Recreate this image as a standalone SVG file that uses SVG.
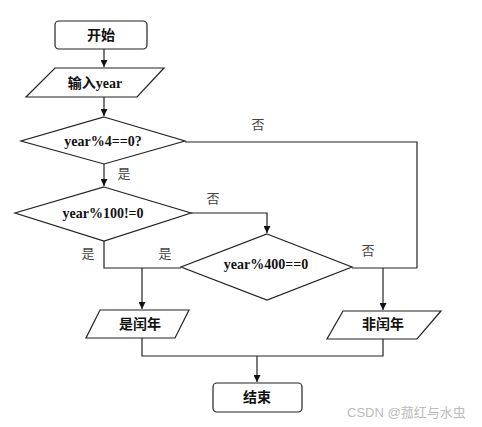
<svg xmlns="http://www.w3.org/2000/svg" width="482" height="427" viewBox="0 0 482 427">
<style>
.shape{fill:#fff;stroke:#222;stroke-width:1.2}
.t{font-family:"Liberation Serif","Noto Sans CJK SC",serif;font-size:14px;font-weight:bold;fill:#111;text-anchor:middle;dominant-baseline:central}
.lbl{font-family:"Noto Sans CJK SC","Liberation Serif",serif;font-size:13px;fill:#444;text-anchor:middle;dominant-baseline:central}
.wm{font-family:"Liberation Sans","Noto Sans CJK SC",sans-serif;font-size:13px;fill:#bbb}
.c{fill:none;stroke:#222;stroke-width:1.2}
</style>
<defs>
<marker id="ah" viewBox="0 0 10 10" refX="10" refY="5" markerWidth="7" markerHeight="7" orient="auto" markerUnits="userSpaceOnUse">
<path d="M0,0 L10,5 L0,10 z" fill="#111"/>
</marker>
</defs>
<rect width="482" height="427" fill="#fff"/>
<g id="connectors">
<path class="c" d="M104,49 V67" marker-end="url(#ah)"/>
<path class="c" d="M104,97 V116" marker-end="url(#ah)"/>
<path class="c" d="M104,164 V186" marker-end="url(#ah)"/>
<path class="c" d="M185,142 H417 V268"/>
<path class="c" d="M191,213 H267 V233" marker-end="url(#ah)"/>
<path class="c" d="M104,241 V268 H181"/>
<path class="c" d="M142,268 V309" marker-end="url(#ah)"/>
<path class="c" d="M352,268 H417"/>
<path class="c" d="M383,268 V310" marker-end="url(#ah)"/>
<path class="c" d="M142,338 V356 H383 V339"/>
<path class="c" d="M257,356 V382" marker-end="url(#ah)"/>
<text class="lbl" x="258" y="123">否</text>
<text class="lbl" x="124" y="172">是</text>
<text class="lbl" x="213" y="197">否</text>
<text class="lbl" x="88" y="252">是</text>
<text class="lbl" x="165" y="252">是</text>
<text class="lbl" x="368" y="249">否</text>
</g>
<g id="start">
<rect class="shape" x="55" y="21" width="92" height="28" rx="4"/>
<text class="t" x="101" y="35">开始</text>
</g>
<g id="input">
<polygon class="shape" points="55,68 164,68 137,97 26,97"/>
<text class="t" x="95" y="83">输入year</text>
</g>
<g id="d1">
<polygon class="shape" points="104,117 185,141 104,164 21,141"/>
<text class="t" x="103" y="141">year%4==0?</text>
</g>
<g id="d2">
<polygon class="shape" points="104,187 191,213 104,241 15,213"/>
<text class="t" x="103" y="213">year%100!=0</text>
</g>
<g id="d3">
<polygon class="shape" points="267,234 352,267 267,300 181,267"/>
<text class="t" x="266" y="264">year%400==0</text>
</g>
<g id="leap">
<polygon class="shape" points="100,310 189,310 175,338 86,338"/>
<text class="t" x="140" y="324">是闰年</text>
</g>
<g id="notleap">
<polygon class="shape" points="343,311 441,311 417,339 327,339"/>
<text class="t" x="383" y="324">非闰年</text>
</g>
<g id="end">
<rect class="shape" x="213" y="383" width="89" height="29" rx="4"/>
<text class="t" x="257" y="397">结束</text>
</g>
<text class="wm" x="347" y="417">CSDN @菰红与水虫</text>
</svg>
